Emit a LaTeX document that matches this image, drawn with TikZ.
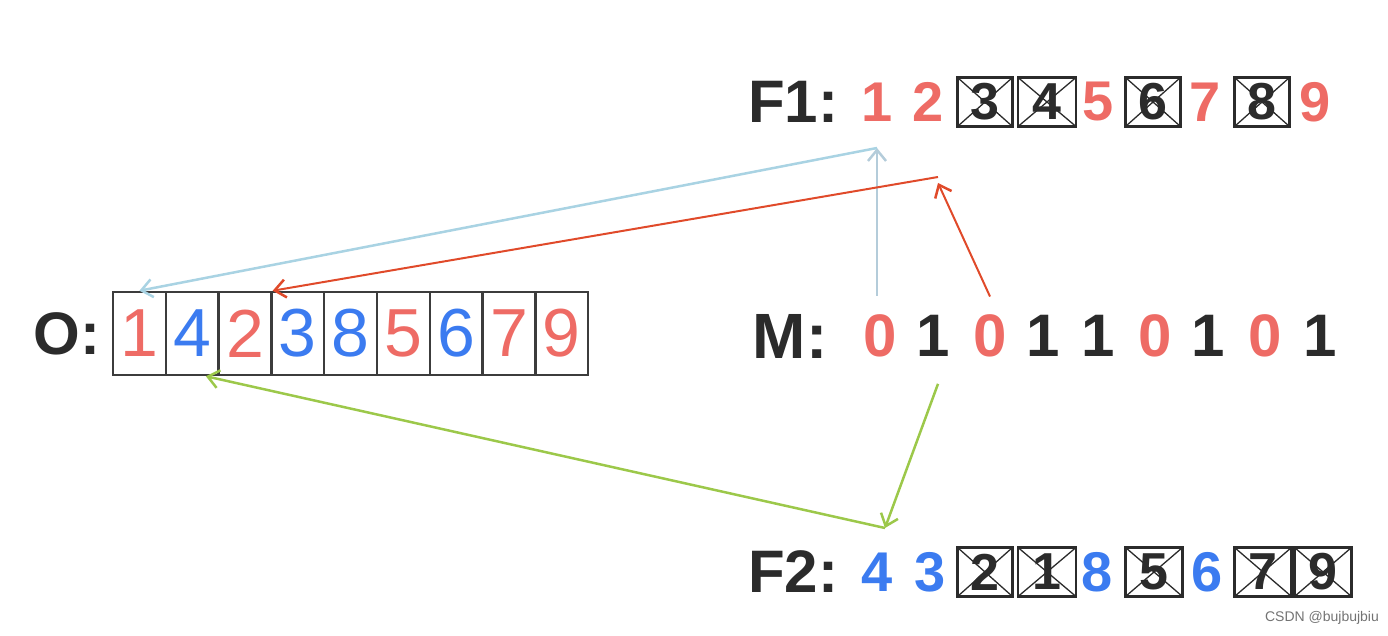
\documentclass[tikz,border=0pt]{standalone}
\usepackage{fontspec}
\setmainfont{Liberation Sans}
\usetikzlibrary{arrows.meta,calc}
\definecolor{ink}{HTML}{2B2B2B}
\definecolor{salmon}{HTML}{EE6B65}
\definecolor{dblue}{HTML}{3B7BF0}
\definecolor{lblue}{HTML}{A9D3E3}
\definecolor{vblue}{HTML}{B4CCDA}
\definecolor{rline}{HTML}{E04A2A}
\definecolor{gline}{HTML}{9CC84A}
\definecolor{cellgray}{HTML}{3C3C3C}
\tikzset{
  lbl/.style={inner sep=0pt, text=ink, font=\bfseries\fontsize{60}{64}\selectfont},
  dig/.style={inner sep=0pt, font=\bfseries\fontsize{56}{60}\selectfont},
  rd/.style={dig, text=salmon},
  bd/.style={dig, text=dblue},
  kd/.style={dig, text=ink},
  xbox/.style={dig, text=ink, draw=ink, line width=2.5pt, minimum width=55pt, minimum height=49pt,
    font=\bfseries\fontsize{52}{56}\selectfont,
    path picture={\draw[ink, line width=1.3pt] (path picture bounding box.north west) -- (path picture bounding box.south east)
      (path picture bounding box.south west) -- (path picture bounding box.north east);}},
  ocell/.style={draw=cellgray, line width=2.5pt, minimum width=52.8pt, minimum height=83pt, inner sep=0pt,
    font=\fontsize{68}{72}\selectfont},
  arr/.style={line width=2.5pt, -{Straight Barb[length=11pt,width=18pt,line width=2.5pt]}},
}
\begin{document}
\begin{tikzpicture}[x=1pt,y=1pt]
\useasboundingbox (0,0) rectangle (1388,636);
% O row
\node[lbl] (olab) at (67,302) {O:};
\foreach \i/\d/\c in {1/1/salmon,2/4/dblue,3/2/salmon,4/3/dblue,5/8/dblue,6/5/salmon,7/6/dblue,8/7/salmon,9/9/salmon}{
  \node[ocell, text=\c] (o\i) at ({113+52.8*(\i-0.5)},302.5) {\d};
}
% M row
\node[lbl, font=\bfseries\fontsize{64}{68}\selectfont] (mlab) at (790,300) {M:};
\foreach \i/\x/\d/\s in {1/880/0/rd,2/933/1/kd,3/990/0/rd,4/1043/1/kd,5/1098/1/kd,6/1155/0/rd,7/1208/1/kd,8/1265/0/rd,9/1320/1/kd}{
  \node[\s, font=\bfseries\fontsize{60}{64}\selectfont] (m\i) at (\x,300) {\d};
}
% F1 row
\node[lbl] (f1lab) at (793,534) {F1:};
\node[rd] (a1) at (877,534) {1};
\node[rd] (a2) at (928,534) {2};
\node[xbox] (a3) at (985,534) {3};
\node[xbox, minimum width=58pt] (a4) at (1047,534) {4};
\node[rd] (a5) at (1098,534) {5};
\node[xbox] (a6) at (1153,534) {6};
\node[rd] (a7) at (1205,534) {7};
\node[xbox] (a8) at (1262,534) {8};
\node[rd] (a9) at (1315,534) {9};
% F2 row
\node[lbl] (f2lab) at (793,64) {F2:};
\node[bd] (b1) at (877,64) {4};
\node[bd] (b2) at (930,64) {3};
\node[xbox] (b3) at (985,64) {2};
\node[xbox, minimum width=58pt] (b4) at (1047,64) {1};
\node[bd] (b5) at (1097,64) {8};
\node[xbox, minimum width=57pt] (b6) at (1154,64) {5};
\node[bd] (b7) at (1207,64) {6};
\node[xbox, minimum width=57pt] (b8) at (1263,64) {7};
\node[xbox, minimum width=57pt] (b9) at (1323,64) {9};
% connectors
\coordinate (bt) at (877,488);
\coordinate (rt) at (938,459);
\coordinate (gb) at (885,108);
\draw[arr, vblue] ([yshift=19pt]m1.north -| bt) -- (bt);
\draw[arr, lblue] (bt) -- (o1.north);
\draw[arr, rline, line width=2pt] ([yshift=18pt]m3.north) -- ([yshift=-6pt]rt);
\draw[arr, rline, line width=2pt] (rt) -- (o3.north east);
\draw[arr, gline] ([shift={(5pt,-27pt)}]m2.south) -- (gb);
\draw[arr, gline] (gb) -- ([xshift=-14pt]o2.south east);
% watermark
\node[inner sep=0pt, text=black!55, font=\fontsize{14}{16}\selectfont] (wm) at (1322,18) {CSDN @bujbujbiu};
\end{tikzpicture}
\end{document}
